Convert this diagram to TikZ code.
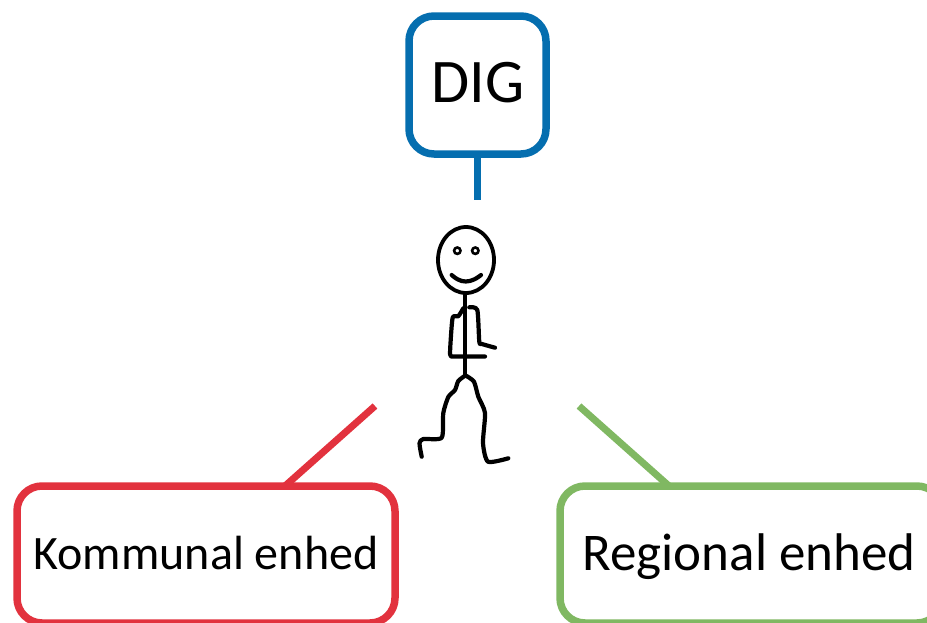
\documentclass[tikz,border=0pt]{standalone}
\usepackage{fontspec}
\setmainfont{Carlito}
\definecolor{cblue}{RGB}{5,110,175}
\definecolor{cred}{RGB}{226,50,62}
\definecolor{cgreen}{RGB}{128,184,98}
\tikzset{
  box/.style={draw=#1,line width=7.5pt,fill=white,rounded corners=25pt,inner sep=0pt,anchor=center,text=black},
  stick/.style={line width=4.2pt,black,line cap=round,line join=round},
  conn/.style={line width=7pt,draw=#1}
}
\begin{document}
\begin{tikzpicture}[x=1pt,y=-1pt]
\useasboundingbox (0,0) rectangle (927,622);
\begin{scope}
\clip (0,0) rectangle (927,622);
\coordinate (a) at (477.5,200);
\coordinate (b) at (375,406);
\coordinate (c) at (579,406);
\coordinate (kt) at (285,486);
\coordinate (rt) at (669,486);
\draw[conn=cred] (kt) -- (b);
\draw[conn=cgreen] (rt) -- (c);
\node[box=cblue,minimum width=137pt,minimum height=138pt] (dig) at (477.5,85) {};
\node[font=\fontsize{62}{70}\selectfont] (digt) at (478,83) {DIG};
\node[box=cred,minimum width=378pt,minimum height=137pt] (kom) at (206,554.5) {};
\node[font=\fontsize{48}{56}\selectfont] (komt) at (206,553) {Kommunal enhed};
\node[box=cgreen,minimum width=382pt,minimum height=137pt] (reg) at (751,554.5) {};
\node[font=\fontsize{53}{60}\selectfont] (regt) at (749,557) {Regional enhed};
\draw[conn=cblue] (dig.south) -- (a);
\end{scope}
\draw[line width=3.8pt] (466,260) ellipse (28pt and 33pt);
\draw[line width=2.6pt] (457.3,250.7) circle (3.2pt) (475.3,250.7) circle (3.2pt);
\draw[stick] plot[smooth,tension=.7] coordinates {(451.7,275) (458,279.5) (465.7,281.5) (474,279.5) (481,275)};
\draw[stick] (465,295) -- (465,375);
\draw[stick] plot[smooth,tension=.4] coordinates {(463.3,308.3) (458.3,316.2) (452.7,317.5) (450.5,343) (450,354)} -- (451,356.5) -- (485,356.5);
\draw[stick] plot[smooth,tension=.4] coordinates {(469.3,307.3) (477.3,310) (479.3,341.7) (482,344) (495,347.7)};
\draw[stick] plot[smooth,tension=.4] coordinates {(465,375.7) (458.3,381) (455,390) (448.3,397) (443.3,413) (441.7,437.7) (423.3,439) (419.5,443.3) (421.7,456.7)};
\draw[stick] plot[smooth,tension=.4] coordinates {(466,375.7) (474,381.7) (478.3,396.7) (485,413) (483,443) (488,461.7) (508.3,458.3)};
\end{tikzpicture}
\end{document}
